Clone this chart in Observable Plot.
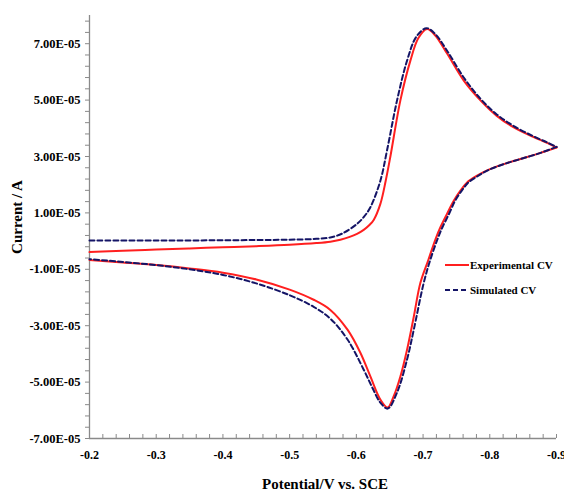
<!DOCTYPE html>
<html><head><meta charset="utf-8">
<script src="https://cdn.jsdelivr.net/npm/d3@7"></script>
<script src="https://cdn.jsdelivr.net/npm/@observablehq/plot@0.6"></script>
<style>
body{margin:0;background:#fff;}
#wrap{position:relative;width:564px;height:493px;font-family:"Liberation Serif","Times New Roman",serif;}
</style></head><body><div id="wrap"></div>
<script>
// Potential (V vs. SCE) and current (units of 1E-05 A)
const expForwardPotential = [-0.20,-0.25,-0.30,-0.35,-0.40,-0.45,-0.50,-0.54,-0.561,-0.576,-0.59,-0.601,-0.611,-0.62,-0.626,-0.636,-0.644,-0.651,-0.666,-0.681,-0.693,-0.706,-0.718,-0.736,-0.761,-0.786,-0.81,-0.836,-0.865,-0.886,-0.90];
const expForwardCurrent   = [-0.39,-0.34,-0.30,-0.26,-0.22,-0.18,-0.13,-0.07,-0.02,0.05,0.15,0.26,0.40,0.58,0.75,1.32,2.14,3.00,4.99,6.40,7.20,7.52,7.30,6.65,5.69,4.99,4.45,4.03,3.70,3.48,3.32];
const expReversePotential = [-0.90,-0.875,-0.846,-0.821,-0.796,-0.781,-0.766,-0.756,-0.746,-0.736,-0.726,-0.719,-0.708,-0.696,-0.686,-0.676,-0.666,-0.656,-0.647,-0.636,-0.621,-0.606,-0.587,-0.561,-0.536,-0.50,-0.45,-0.40,-0.35,-0.30,-0.25,-0.20];
const expReverseCurrent   = [3.32,3.12,2.91,2.73,2.51,2.32,2.08,1.79,1.43,0.97,0.49,0.09,-0.66,-1.48,-2.69,-3.85,-4.80,-5.50,-5.90,-5.62,-4.80,-3.96,-3.15,-2.44,-2.08,-1.72,-1.36,-1.12,-0.97,-0.85,-0.76,-0.67];

const simForwardPotential = [-0.20,-0.30,-0.40,-0.50,-0.54,-0.561,-0.58,-0.601,-0.611,-0.621,-0.636,-0.646,-0.661,-0.676,-0.69,-0.705,-0.718,-0.736,-0.761,-0.786,-0.81,-0.836,-0.865,-0.886,-0.90];
const simForwardCurrent   = [0.02,0.02,0.03,0.05,0.08,0.13,0.28,0.61,0.85,1.20,2.14,3.22,4.99,6.40,7.25,7.55,7.35,6.75,5.80,5.05,4.50,4.08,3.72,3.50,3.34];
const simReversePotential = [-0.90,-0.875,-0.846,-0.821,-0.797,-0.783,-0.768,-0.758,-0.748,-0.739,-0.729,-0.722,-0.711,-0.701,-0.686,-0.676,-0.661,-0.647,-0.636,-0.624,-0.611,-0.587,-0.561,-0.536,-0.50,-0.45,-0.40,-0.35,-0.30,-0.25,-0.20];
const simReverseCurrent   = [3.34,3.12,2.91,2.73,2.51,2.32,2.08,1.79,1.43,0.97,0.49,0.09,-0.65,-1.48,-3.15,-4.20,-5.37,-5.94,-5.73,-5.20,-4.56,-3.50,-2.75,-2.33,-1.92,-1.50,-1.20,-1.00,-0.85,-0.74,-0.64];

const seriesNames = ["Experimental CV","Simulated CV"];
const seriesColors = ["#ff1f1f","#141466"];
const yMajorTicks = [-7,-5,-3,-1,1,3,5,7];
const xMajorTicks = [-0.2,-0.3,-0.4,-0.5,-0.6,-0.7,-0.8,-0.9];
const xTitle = "Potential/V vs. SCE";
const yTitle = "Current / A";

function rows(name, branch, xs, ys){ return xs.map((x,i)=>({series:name, branch:name+branch, x, y:ys[i]})); }
const expData = [...rows(seriesNames[0],"f",expForwardPotential,expForwardCurrent), ...rows(seriesNames[0],"r",expReversePotential,expReverseCurrent)];
const simData = [...rows(seriesNames[1],"f",simForwardPotential,simForwardCurrent), ...rows(seriesNames[1],"r",simReversePotential,simReverseCurrent)];

const yMinor = d3.range(0,38).map(i => +(-7 + i*0.4).toFixed(2));
const xMinor = d3.range(0,36).map(i => +(-0.2 - i*0.02).toFixed(2));
const fmtY = v => (v<0?"-":"") + Math.abs(v).toFixed(2) + "E-05";
const fmtX = v => String(v);

const plot = Plot.plot({
  width: 564, height: 493,
  marginLeft: 89, marginRight: 8, marginTop: 15, marginBottom: 55,
  style: {fontFamily: '"Liberation Serif","Times New Roman",serif', fontSize: "12px", fontWeight: "bold", color: "#000", background: "#fff"},
  x: {domain: [-0.2, -0.9]},
  y: {domain: [-7, 8]},
  marks: [
    Plot.ruleX([-0.2], {stroke: "#8a8a8a", strokeWidth: 1.3}),
    Plot.ruleY([-7], {stroke: "#8a8a8a", strokeWidth: 1.3}),
    Plot.axisY({ticks: yMinor, tickSize: 4, tickFormat: () => "", stroke: "#8a8a8a", label: null}),
    Plot.axisX({ticks: xMinor, tickSize: -4, tickFormat: () => "", stroke: "#8a8a8a", label: null}),
    Plot.axisY({ticks: yMajorTicks, tickSize: 0, tickPadding: 9, tickFormat: fmtY, label: null, fill: "#000", fontSize: 12.5}),
    Plot.axisX({ticks: xMajorTicks, tickSize: 0, tickPadding: 12, tickFormat: fmtX, label: null, fill: "#000", fontSize: 12}),
    Plot.line(expData, {x: "x", y: "y", z: "branch", stroke: seriesColors[0], strokeWidth: 2, curve: "catmull-rom"}),
    Plot.line(simData, {x: "x", y: "y", z: "branch", stroke: seriesColors[1], strokeWidth: 2, strokeDasharray: "5,3", curve: "catmull-rom"})
  ]
});
const svg = d3.select(plot);
svg.append("text").attr("x", 325).attr("y", 489).attr("text-anchor","middle")
  .style("font-size","15px").style("font-weight","bold").attr("fill","#000").text(xTitle);
svg.append("text").attr("transform","translate(22,217) rotate(-90)").attr("text-anchor","middle")
  .style("font-size","15px").style("font-weight","bold").attr("fill","#000").text(yTitle);
// legend
const lg = svg.append("g");
seriesNames.forEach((n,i) => {
  const yy = 265 + i*25;
  lg.append("line").attr("x1",445).attr("x2",469).attr("y1",yy).attr("y2",yy)
    .attr("stroke",seriesColors[i]).attr("stroke-width",2).attr("stroke-dasharray", i ? "5,3" : null);
  lg.append("text").attr("x",470).attr("y",yy+3.5).attr("text-anchor","start")
    .style("font-size","11px").style("font-weight","bold").attr("fill","#000").text(n);
});
document.getElementById("wrap").appendChild(plot);
</script>
</body></html>
